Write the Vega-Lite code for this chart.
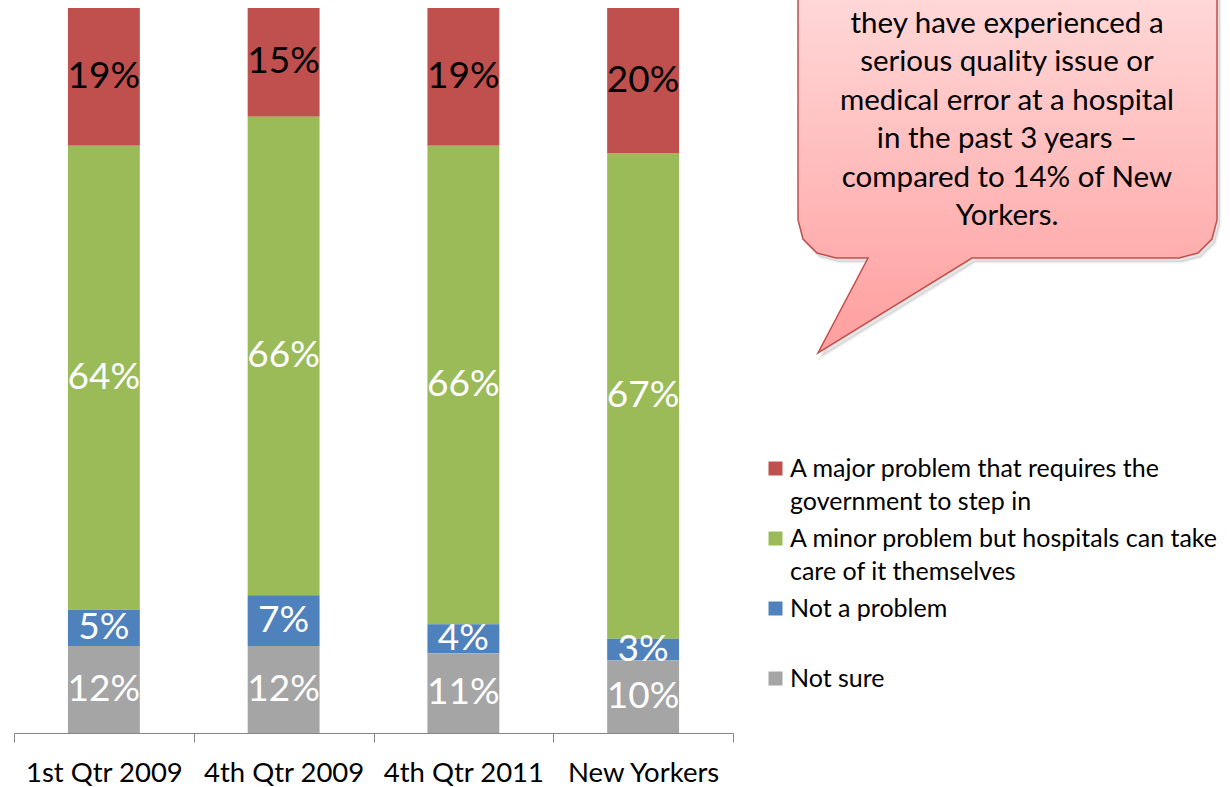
{
  "$schema": "https://vega.github.io/schema/vega-lite/v6.json",
  "autosize": {"type": "none"},
  "padding": {"left": 14, "top": 8, "right": 497, "bottom": 54},
  "width": 719,
  "height": 725,
  "config": {
    "font": "Lato",
    "view": {"stroke": null},
    "style": {"guide-label": {"lineHeight": 33}}
  },
  "layer": [
    {
      "data": {
        "values": [
          {"period": "1st Qtr 2009", "response": "A major problem that requires the government to step in", "pct": 0.19, "rank": 4},
          {"period": "1st Qtr 2009", "response": "A minor problem but hospitals can take care of it themselves", "pct": 0.64, "rank": 3},
          {"period": "1st Qtr 2009", "response": "Not a problem", "pct": 0.05, "rank": 2},
          {"period": "1st Qtr 2009", "response": "Not sure", "pct": 0.12, "rank": 1},
          {"period": "4th Qtr 2009", "response": "A major problem that requires the government to step in", "pct": 0.15, "rank": 4},
          {"period": "4th Qtr 2009", "response": "A minor problem but hospitals can take care of it themselves", "pct": 0.66, "rank": 3},
          {"period": "4th Qtr 2009", "response": "Not a problem", "pct": 0.07, "rank": 2},
          {"period": "4th Qtr 2009", "response": "Not sure", "pct": 0.12, "rank": 1},
          {"period": "4th Qtr 2011", "response": "A major problem that requires the government to step in", "pct": 0.19, "rank": 4},
          {"period": "4th Qtr 2011", "response": "A minor problem but hospitals can take care of it themselves", "pct": 0.66, "rank": 3},
          {"period": "4th Qtr 2011", "response": "Not a problem", "pct": 0.04, "rank": 2},
          {"period": "4th Qtr 2011", "response": "Not sure", "pct": 0.11, "rank": 1},
          {"period": "New Yorkers", "response": "A major problem that requires the government to step in", "pct": 0.20, "rank": 4},
          {"period": "New Yorkers", "response": "A minor problem but hospitals can take care of it themselves", "pct": 0.67, "rank": 3},
          {"period": "New Yorkers", "response": "Not a problem", "pct": 0.03, "rank": 2},
          {"period": "New Yorkers", "response": "Not sure", "pct": 0.10, "rank": 1}
        ]
      },
      "encoding": {
        "x": {
          "field": "period",
          "type": "nominal",
          "sort": null,
          "scale": {"paddingInner": 0, "paddingOuter": 0},
          "axis": {
            "title": null,
            "labelAngle": 0,
            "labelFontSize": 27.5,
            "labelColor": "#000000",
            "labelPadding": 17,
            "domainColor": "#868686",
            "tickColor": "#868686",
            "tickSize": 9,
            "tickBand": "extent",
            "grid": false
          }
        }
      },
      "layer": [
        {
          "mark": {"type": "bar", "width": {"band": 0.4}},
          "encoding": {
            "y": {"field": "pct", "type": "quantitative", "stack": "zero", "scale": {"domain": [0, 1], "nice": false}, "axis": null},
            "order": {"field": "rank", "type": "quantitative"},
            "color": {
              "field": "response",
              "type": "nominal",
              "scale": {
                "domain": ["A major problem that requires the government to step in", "A minor problem but hospitals can take care of it themselves", "Not a problem", "Not sure"],
                "range": ["#C0504D", "#9BBB59", "#4F81BD", "#A5A5A5"]
              },
              "legend": {
                "title": null,
                "orient": "none",
                "legendX": 749,
                "legendY": 448,
                "padding": 0,
                "symbolType": "square",
                "symbolSize": 196,
                "symbolStrokeWidth": 0,
                "labelFontSize": 25,
                "labelColor": "#000000",
                "labelLimit": 1000,
                "labelOffset": 2,
                "labelBaseline": "middle",
                "rowPadding": 11,
                "labelExpr": "datum.label == 'A major problem that requires the government to step in' ? ['A major problem that requires the', 'government to step in'] : datum.label == 'A minor problem but hospitals can take care of it themselves' ? ['A minor problem but hospitals can take', 'care of it themselves'] : [datum.label, '']"
              }
            }
          }
        },
        {
          "mark": {"type": "text", "fontSize": 37, "baseline": "middle", "align": "center"},
          "encoding": {
            "y": {"field": "pct", "type": "quantitative", "stack": "zero", "bandPosition": 0.5},
            "order": {"field": "rank", "type": "quantitative"},
            "text": {"field": "pct", "type": "quantitative", "format": ".0%"},
            "color": {
              "condition": {"test": "datum.rank == 4", "value": "#000000"},
              "value": "#FFFFFF"
            }
          }
        }
      ]
    },
    {
      "data": {
        "values": [
          {"i": 0, "cx": 798, "cy": -80},
          {"i": 1, "cx": 1217, "cy": -80},
          {"i": 2, "cx": 1217, "cy": 220},
          {"i": 3, "cx": 1212, "cy": 239},
          {"i": 4, "cx": 1198, "cy": 253},
          {"i": 5, "cx": 1179, "cy": 258},
          {"i": 6, "cx": 972, "cy": 258},
          {"i": 7, "cx": 818, "cy": 353},
          {"i": 8, "cx": 868, "cy": 258},
          {"i": 9, "cx": 836, "cy": 258},
          {"i": 10, "cx": 817, "cy": 253},
          {"i": 11, "cx": 803, "cy": 239},
          {"i": 12, "cx": 798, "cy": 220},
          {"i": 13, "cx": 798, "cy": -80}
        ]
      },
      "encoding": {
        "x": {"field": "cx", "type": "quantitative", "scale": {"domain": [14, 733], "nice": false, "zero": false}, "axis": null},
        "y": {"field": "cy", "type": "quantitative", "scale": {"domain": [8, 733], "nice": false, "zero": false, "reverse": true}, "axis": null},
        "order": {"field": "i", "type": "quantitative"}
      },
      "layer": [
        {
          "mark": {"type": "line", "interpolate": "linear", "strokeWidth": 3, "stroke": "#000000", "strokeOpacity": 0.06, "fill": "#000000", "fillOpacity": 0.1, "xOffset": 3, "yOffset": 4}
        },
        {
          "mark": {
            "type": "line",
            "interpolate": "linear",
            "stroke": "#C0504D",
            "strokeWidth": 1.5,
            "fill": {
              "gradient": "linear",
              "x1": 0, "y1": 0, "x2": 0, "y2": 1,
              "stops": [
                {"offset": 0, "color": "#FFE4E4"},
                {"offset": 1, "color": "#FF9E9E"}
              ]
            }
          }
        },
        {
          "data": {
            "values": [
              {"cx": 1007, "cy": 33, "note": "they have experienced a\nserious quality issue or\nmedical error at a hospital\nin the past 3 years –\ncompared to 14% of New\nYorkers."}
            ]
          },
          "mark": {"type": "text", "fontSize": 29.5, "align": "center", "baseline": "alphabetic", "lineBreak": "\n", "lineHeight": 38.4, "color": "#000000"},
          "encoding": {
            "text": {"field": "note"},
            "order": null
          }
        }
      ]
    }
  ],
  "resolve": {"scale": {"x": "independent", "y": "independent"}}
}
